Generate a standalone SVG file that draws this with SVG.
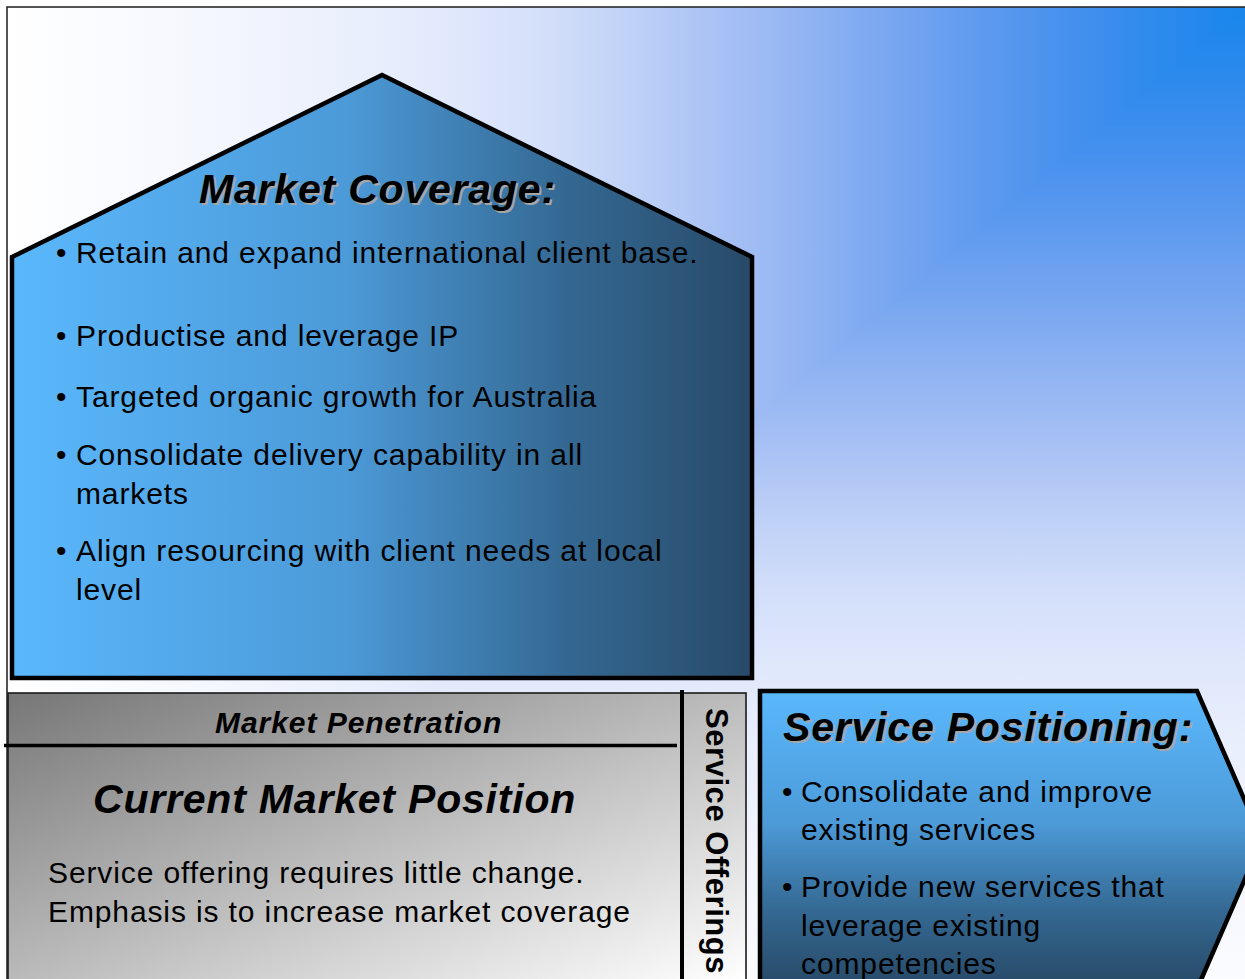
<svg xmlns="http://www.w3.org/2000/svg" width="1245" height="979" viewBox="0 0 1245 979">
  <defs>
    <!-- slide background: rectangular "from corner" blend, split along the diagonal -->
    <linearGradient id="bgH" gradientUnits="userSpaceOnUse" x1="1245" y1="0" x2="7" y2="0">
      <stop offset="0" stop-color="#1886ec"/>
      <stop offset="0.07" stop-color="#2d8aed"/>
      <stop offset="0.14" stop-color="#4590ee"/>
      <stop offset="0.21" stop-color="#5d9aef"/>
      <stop offset="0.28" stop-color="#76a5f0"/>
      <stop offset="0.35" stop-color="#8fb3f2"/>
      <stop offset="0.42" stop-color="#a7c0f4"/>
      <stop offset="0.49" stop-color="#bdd0f6"/>
      <stop offset="0.56" stop-color="#d2defa"/>
      <stop offset="0.63" stop-color="#dfe7fb"/>
      <stop offset="0.70" stop-color="#e8eefc"/>
      <stop offset="0.84" stop-color="#f5f7fe"/>
      <stop offset="1" stop-color="#ffffff"/>
    </linearGradient>
    <linearGradient id="bgV" href="#bgH" gradientUnits="userSpaceOnUse" x1="0" y1="7" x2="0" y2="1047"/>
    <linearGradient id="blueH" x1="0" y1="0" x2="1" y2="0">
      <stop offset="0" stop-color="#5ab8fc"/>
      <stop offset="0.45" stop-color="#4c9ad8"/>
      <stop offset="0.75" stop-color="#346892"/>
      <stop offset="1" stop-color="#284a68"/>
    </linearGradient>
    <linearGradient id="blueV" gradientUnits="userSpaceOnUse" x1="0" y1="691" x2="0" y2="985">
      <stop offset="0" stop-color="#5ab8fc"/>
      <stop offset="0.45" stop-color="#4c9ad8"/>
      <stop offset="0.75" stop-color="#346892"/>
      <stop offset="1" stop-color="#284a68"/>
    </linearGradient>
    <linearGradient id="grey" gradientUnits="userSpaceOnUse" x1="8" y1="694" x2="208" y2="1196">
      <stop offset="0" stop-color="#777777"/>
      <stop offset="1" stop-color="#ffffff"/>
    </linearGradient>
    <style>
      .shape { stroke: #000; stroke-width: 4.5; stroke-linejoin: miter; }
      .head { font-family: "Liberation Sans", Arial, sans-serif; font-weight: bold; font-style: italic; font-size: 41px; letter-spacing: 0.8px; fill: #000; }
      .shadow { fill: #a6a6a6; }
      .body { font-family: "Liberation Sans", Arial, sans-serif; font-size: 30px; letter-spacing: 0.88px; fill: #000; }
      .sub { font-family: "Liberation Sans", Arial, sans-serif; font-weight: bold; font-style: italic; font-size: 30px; letter-spacing: 0.95px; fill: #000; }
      .side { font-family: "Liberation Sans", Arial, sans-serif; font-weight: bold; font-size: 31px; letter-spacing: 0.55px; fill: #000; }
      .rule { stroke: #000; fill: none; }
    </style>
  </defs>

  <!-- background -->
  <rect x="0" y="0" width="1245" height="979" fill="#ffffff"/>
  <rect x="7" y="7" width="1260" height="1000" fill="url(#bgH)"/>
  <polygon points="1245,7 1260,7 1260,1047 7,1047" fill="url(#bgV)"/>
  <rect x="7" y="7" width="1260" height="1000" fill="none" stroke="#2a2a2a" stroke-width="1.6"/>

  <!-- Market Coverage -->
  <g id="market-coverage">
    <polygon class="shape" points="12,257 382,75 752,257 752,678 12,678" fill="url(#blueH)"/>
    <text class="head shadow" x="201" y="205">Market Coverage:</text>
    <text class="head" x="199" y="203">Market Coverage:</text>
    <g class="body">
      <text x="56" y="263">•</text><text x="76" y="263">Retain and expand international client base.</text>
      <text x="56" y="346">•</text><text x="76" y="346">Productise and leverage IP</text>
      <text x="56" y="407">•</text><text x="76" y="407">Targeted organic growth for Australia</text>
      <text x="56" y="465">•</text><text x="76" y="465">Consolidate delivery capability in all</text>
      <text x="76" y="504">markets</text>
      <text x="56" y="561">•</text><text x="76" y="561">Align resourcing with client needs at local</text>
      <text x="76" y="600">level</text>
    </g>
  </g>

  <!-- Current Market Position -->
  <g id="current-position">
    <rect x="8" y="693" width="738" height="300" fill="url(#grey)" stroke="#1a1a1a" stroke-width="1.6"/>
    <text class="sub" x="215" y="733">Market Penetration</text>
    <text class="head" x="93" y="813">Current Market Position</text>
    <text class="body" x="48" y="883">Service offering requires little change.</text>
    <text class="body" x="48" y="922">Emphasis is to increase market coverage</text>
    <text class="side" transform="translate(706,708) rotate(90)">Service Offerings</text>
  </g>

  <!-- axis rules -->
  <g id="connectors">
    <line class="rule" x1="4" y1="745.5" x2="677" y2="745.5" stroke-width="3.5"/>
    <line class="rule" x1="682" y1="690" x2="682" y2="985" stroke-width="4"/>
  </g>

  <!-- Service Positioning -->
  <g id="service-positioning">
    <polygon class="shape" points="760,691 1197,691 1262,840 1197,989 760,989" fill="url(#blueV)"/>
    <text class="head shadow" x="785" y="743">Service Positioning:</text>
    <text class="head" x="783" y="741">Service Positioning:</text>
    <g class="body">
      <text x="782" y="802">•</text><text x="801" y="802">Consolidate and improve</text>
      <text x="801" y="840">existing services</text>
      <text x="782" y="897">•</text><text x="801" y="897">Provide new services that</text>
      <text x="801" y="936">leverage existing</text>
      <text x="801" y="974">competencies</text>
    </g>
  </g>
</svg>
